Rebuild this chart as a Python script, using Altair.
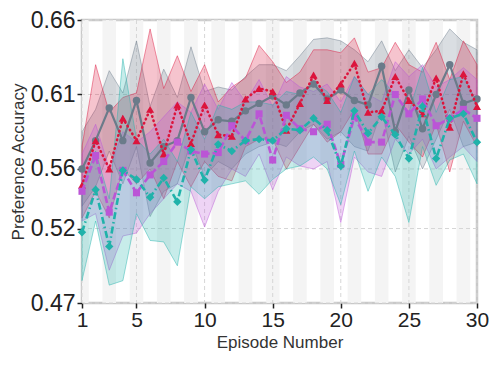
import altair as alt
import pandas as pd

episodes = list(range(1, 31))

gray_mean = [0.560, 0.579, 0.601, 0.579, 0.606, 0.564, 0.575, 0.579, 0.608, 0.585,
             0.593, 0.592, 0.599, 0.604, 0.609, 0.603, 0.611, 0.617, 0.607, 0.613,
             0.606, 0.603, 0.629, 0.585, 0.613, 0.587, 0.610, 0.630, 0.604, 0.607]
gray_hi = [0.585, 0.600, 0.626, 0.611, 0.646, 0.602, 0.627, 0.608, 0.642, 0.612,
           0.615, 0.613, 0.622, 0.630, 0.630, 0.626, 0.636, 0.647, 0.648, 0.646,
           0.640, 0.632, 0.646, 0.626, 0.640, 0.628, 0.640, 0.654, 0.645, 0.640]
gray_lo = [0.535, 0.548, 0.572, 0.550, 0.575, 0.528, 0.545, 0.550, 0.578, 0.555,
           0.565, 0.560, 0.570, 0.575, 0.578, 0.575, 0.585, 0.590, 0.580, 0.585,
           0.575, 0.572, 0.600, 0.558, 0.582, 0.560, 0.580, 0.600, 0.575, 0.578]

crimson_mean = [0.549, 0.579, 0.560, 0.594, 0.579, 0.600, 0.570, 0.603, 0.577, 0.603,
                0.583, 0.582, 0.607, 0.614, 0.612, 0.586, 0.604, 0.623, 0.606, 0.617,
                0.631, 0.598, 0.599, 0.622, 0.606, 0.597, 0.621, 0.588, 0.624, 0.602]
crimson_hi = [0.575, 0.630, 0.598, 0.608, 0.611, 0.654, 0.614, 0.636, 0.612, 0.630,
              0.605, 0.615, 0.621, 0.643, 0.632, 0.618, 0.625, 0.640, 0.640, 0.638,
              0.648, 0.625, 0.628, 0.645, 0.630, 0.625, 0.645, 0.620, 0.646, 0.630]
crimson_lo = [0.527, 0.545, 0.527, 0.560, 0.550, 0.560, 0.540, 0.565, 0.548, 0.565,
              0.555, 0.552, 0.575, 0.580, 0.580, 0.560, 0.575, 0.590, 0.578, 0.585,
              0.600, 0.570, 0.570, 0.590, 0.578, 0.568, 0.590, 0.558, 0.592, 0.575]

purple_mean = [0.545, 0.569, 0.531, 0.559, 0.544, 0.556, 0.565, 0.578, 0.572, 0.570,
               0.571, 0.589, 0.579, 0.597, 0.566, 0.596, 0.587, 0.585, 0.590, 0.563,
               0.595, 0.578, 0.578, 0.610, 0.597, 0.607, 0.589, 0.594, 0.600, 0.594]
purple_hi = [0.570, 0.590, 0.560, 0.585, 0.578, 0.585, 0.595, 0.605, 0.598, 0.617,
             0.600, 0.618, 0.605, 0.620, 0.602, 0.622, 0.615, 0.612, 0.617, 0.605,
             0.622, 0.610, 0.605, 0.632, 0.622, 0.630, 0.615, 0.620, 0.628, 0.620]
purple_lo = [0.525, 0.530, 0.492, 0.515, 0.517, 0.530, 0.540, 0.550, 0.545, 0.521,
             0.545, 0.560, 0.555, 0.570, 0.546, 0.568, 0.562, 0.560, 0.565, 0.524,
             0.568, 0.558, 0.555, 0.580, 0.570, 0.580, 0.560, 0.568, 0.575, 0.565]

teal_mean = [0.5175, 0.546, 0.508, 0.559, 0.553, 0.541, 0.554, 0.538, 0.573, 0.5525,
             0.5765, 0.572, 0.579, 0.580, 0.579, 0.587, 0.586, 0.594, 0.586, 0.562,
             0.599, 0.584, 0.595, 0.583, 0.567, 0.602, 0.567, 0.594, 0.597, 0.578]
teal_hi = [0.548, 0.572, 0.540, 0.634, 0.580, 0.570, 0.580, 0.565, 0.598, 0.580,
           0.603, 0.600, 0.605, 0.605, 0.603, 0.612, 0.610, 0.618, 0.612, 0.598,
           0.622, 0.610, 0.620, 0.610, 0.598, 0.628, 0.598, 0.620, 0.622, 0.605]
teal_lo = [0.485, 0.525, 0.482, 0.485, 0.530, 0.512, 0.511, 0.495, 0.548, 0.540,
           0.548, 0.550, 0.552, 0.543, 0.553, 0.560, 0.562, 0.568, 0.560, 0.536,
           0.572, 0.545, 0.568, 0.555, 0.524, 0.575, 0.549, 0.566, 0.570, 0.550]

x_ticks = [1, 5, 10, 15, 20, 25, 30]
y_ticks = [0.47, 0.52, 0.56, 0.61, 0.66]
stripe_eps = list(range(1, 31, 2))

series = [
    ("gray", gray_mean, gray_lo, gray_hi, "#6b7b8a", "circle", [], 2.2, 55),
    ("crimson", crimson_mean, crimson_lo, crimson_hi, "#dc143c", "triangle-up", [0.5, 4], 2.6, 65),
    ("purple", purple_mean, purple_lo, purple_hi, "#bb55d6", "square", [7, 3], 2.6, 50),
    ("teal", teal_mean, teal_lo, teal_hi, "#20b2aa", "diamond", [7, 3, 1.5, 3], 2.6, 70),
]

FONT = "Liberation Sans"
PLOT_H = 283
xs = alt.Scale(domain=[1, 30], nice=False, zero=False)
ys = alt.Scale(domain=[0.47, 0.66], nice=False, zero=False)

x_axis = alt.Axis(values=x_ticks, title="Episode Number", grid=False, domain=False,
                  tickColor="#222222", tickSize=5, tickWidth=1.5, labelFontSize=21,
                  titleFontSize=17, labelPadding=1, titlePadding=4, labelFont=FONT,
                  titleFont=FONT, labelColor="#222222", titleColor="#333333",
                  titleFontWeight="normal", labelFlush=False)
y_axis = alt.Axis(values=y_ticks, format=".2f", title="Preference Accuracy", grid=False,
                  domain=False, tickColor="#222222", tickSize=5, tickWidth=1.5,
                  labelFontSize=23, titleFontSize=17, labelPadding=2, titlePadding=3,
                  labelFont=FONT, titleFont=FONT, labelColor="#222222",
                  titleColor="#333333", titleFontWeight="normal", labelFlush=False)


def X(field):
    return alt.X(field, scale=xs, axis=x_axis)


def Y(field):
    return alt.Y(field, scale=ys, axis=y_axis)


stripe_df = pd.DataFrame({"x": [e - 0.5 for e in stripe_eps], "x2": [e + 0.5 for e in stripe_eps]})
stripes = alt.Chart(stripe_df).mark_rect(color="#f4f4f4", clip=True).encode(
    x=X("x:Q"),
    x2="x2:Q",
    y=alt.value(0),
    y2=alt.value(PLOT_H),
)

vgrid = alt.Chart(pd.DataFrame({"x": x_ticks})).mark_rule(
    color="#d6d6d6", strokeDash=[4, 3], strokeWidth=1).encode(x=X("x:Q"))
hgrid = alt.Chart(pd.DataFrame({"y": y_ticks})).mark_rule(
    color="#d6d6d6", strokeDash=[4, 3], strokeWidth=1).encode(y=Y("y:Q"))

bands = []
lines = []
for name, m, lo, hi, col, shape, dash, sw, size in series:
    df = pd.DataFrame({"ep": episodes, "mean": m, "lo": lo, "hi": hi})
    bands.append(alt.Chart(df).mark_area(
        color=col, fillOpacity=0.25, stroke=col, strokeOpacity=0.45, strokeWidth=1).encode(
        x=X("ep:Q"), y=Y("lo:Q"), y2="hi:Q"))
    lk = dict(color=col, strokeWidth=sw)
    if dash:
        lk["strokeDash"] = dash
    if name == "crimson":
        lk["strokeCap"] = "round"
    lines.append(alt.Chart(df).mark_line(**lk).encode(x=X("ep:Q"), y=Y("mean:Q")))
    lines.append(alt.Chart(df).mark_point(
        shape=shape, filled=True, color=col, size=size, opacity=1).encode(
        x=X("ep:Q"), y=Y("mean:Q")))

chart = alt.layer(stripes, vgrid, hgrid, *bands, *lines).properties(
    width=395, height=PLOT_H,
    autosize=alt.AutoSizeParams(type="none"),
    padding={"left": 74, "top": 12, "right": 12, "bottom": 49},
).configure_view(stroke="#c8c8c8", strokeWidth=2.5)

chart.save("out.html", embed_options={"renderer": "svg", "actions": False})
